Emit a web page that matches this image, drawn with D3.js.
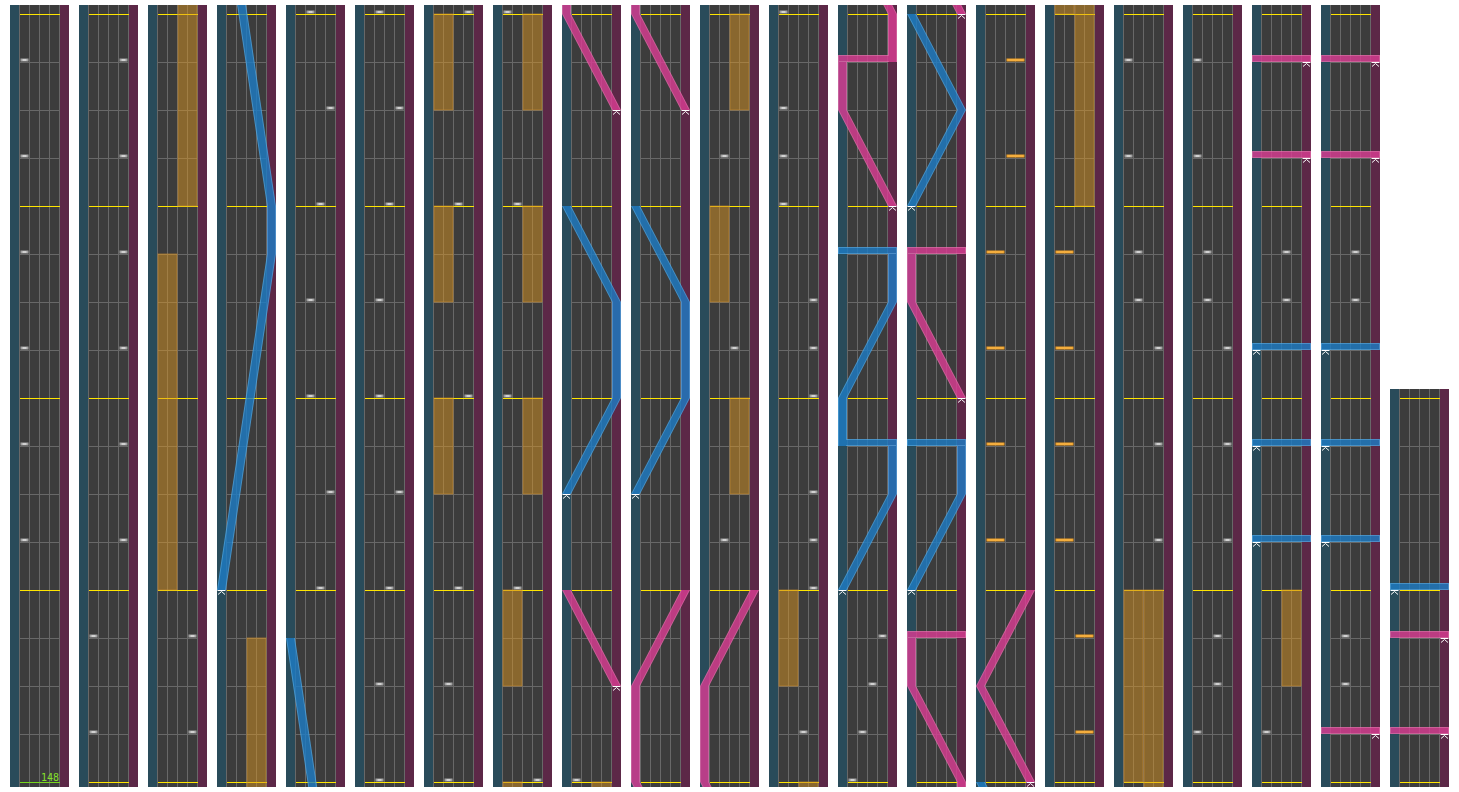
<!DOCTYPE html>
<html>
<head>
<meta charset="utf-8">
<title>Chart overview</title>
<script src="https://cdn.jsdelivr.net/npm/d3@7"></script>
<style>
  body { margin: 0; background: #ffffff; }
  svg { display: block; }
</style>
</head>
<body>
<div id="chart"></div>
<script>
// chart length in beats (4 beats per measure, 16 beats per column)
const totalBeats = 328;
const bpmLabel = "148";

// BT chips per lane, in beats
const btA = [5, 7, 9, 11, 13, 15, 17, 19, 120, 128, 188, 189, 190, 192, 269, 271, 273, 285, 287, 289];
const btB = [72, 74, 80, 82, 88, 90, 96, 98, 116, 124, 165, 173, 193, 266, 267, 282, 283, 306, 307];
const btC = [68, 76, 84, 92, 100, 108, 169, 177, 194, 274, 275, 298, 299, 314, 315];
const btD = [21, 23, 25, 27, 29, 31, 33, 35, 70, 78, 86, 94, 104, 112, 180, 181, 182, 184, 185, 186, 195,
             261, 263, 265, 277, 279, 281];

// FX holds [start, end] in beats
const fxLeftHolds = [[36, 43], [102, 104], [106, 108], [110, 112], [114, 116], [170, 172], [178, 180], [256, 260]];
const fxRightHolds = [[44, 51], [118, 120], [122, 124], [126, 128], [166, 168], [174, 176], [252, 260], [290, 292]];

// FX chips in beats
const fxLeftChips = [229, 231, 233, 235, 245, 247, 249, 251];
const fxRightChips = [237, 239, 241, 243];

// lasers: points [beat, position 0..1]; the same beat twice is a slam
const leftLasers = [
    [[52, 0], [59, 1], [60, 1], [67, 0]],
    [[134, 0], [136, 1], [138, 1], [140, 0]],
    [[150, 0], [152, 1], [154, 1], [156, 0]],
    [[196, 0], [198, 1], [199, 1], [199, 0], [200, 0], [202, 1], [203, 1], [203, 0]],
    [[212, 0], [214, 1], [215, 1], [215, 0]],
    [[220, 0], [222, 1], [224, 0]],
    [[293, 0], [293, 1]],
    [[295, 0], [295, 1]],
    [[297, 0], [297, 1]],
    [[309, 0], [309, 1]],
    [[311, 0], [311, 1]],
    [[313, 0], [313, 1]],
    [[324, 0], [324, 1]]
];
const rightLasers = [
    [[130, 1], [132, 0]],
    [[142, 1], [144, 0], [146, 0], [148, 1]],
    [[158, 1], [160, 0], [162, 0], [164, 1]],
    [[204, 1], [206, 0], [207, 0], [207, 1], [208, 1], [210, 0], [211, 0], [211, 1]],
    [[216, 1], [218, 0], [219, 0], [219, 1]],
    [[224, 1], [226, 0], [228, 1]],
    [[301, 1], [301, 0]],
    [[303, 1], [303, 0]],
    [[305, 1], [305, 0]],
    [[317, 1], [317, 0]],
    [[319, 1], [319, 0]],
    [[321, 1], [321, 0]],
    [[323, 1], [323, 0]]
];

// page layout
const svgWidth = 1459;
const svgHeight = 792;
const beatsPerColumn = 16;
const columnStep = 69;
const columnWidth = 59;
const firstColumnX = 10;
const bottomY = 782;
const topY = 14;

const svg = d3.select("#chart")
    .append("svg")
    .attr("width", svgWidth)
    .attr("height", svgHeight);

const defs = svg.append("defs");

const btLanes = [btA, btB, btC, btD];
const columnCount = Math.ceil(totalBeats / beatsPerColumn);

// draws one laser as filled parallelograms (edge pass, then body pass)
function drawLaser(g, points, y, lx, edgeColor, bodyColor) {
    const grp = g.append("g").attr("opacity", 0.8);
    [[4.5, 0, edgeColor], [3.5, 1, bodyColor]].forEach(([hw, inset, color]) => {
        for (let i = 0; i < points.length - 1; i++) {
            const [b1, v1] = points[i];
            const [b2, v2] = points[i + 1];
            if (b1 === b2) {
                // slam: horizontal bar just above the beat line
                const xa = Math.min(lx(v1), lx(v2)) - hw;
                const xb = Math.max(lx(v1), lx(v2)) + hw;
                grp.append("rect")
                    .attr("x", xa)
                    .attr("y", y(b1) - 7 + inset)
                    .attr("width", xb - xa)
                    .attr("height", 7 - 2 * inset)
                    .attr("fill", color);
            } else {
                const x1 = lx(v1), y1 = y(b1), x2 = lx(v2), y2 = y(b2);
                grp.append("polygon")
                    .attr("points", [[x1 - hw, y1], [x1 + hw, y1], [x2 + hw, y2], [x2 - hw, y2]].join(" "))
                    .attr("fill", color);
            }
        }
    });
    // start marker under the first point
    const sx = lx(points[0][1]);
    const sy = y(points[0][0]);
    g.append("path")
        .attr("d", `M${sx - 4},${sy + 0.5}H${sx + 4}M${sx - 3.5},${sy + 4.5}L${sx},${sy + 1.5}L${sx + 3.5},${sy + 4.5}`)
        .attr("fill", "none")
        .attr("stroke", "#ffffff")
        .attr("stroke-width", 1);
}

for (let c = 0; c < columnCount; c++) {
    const base = c * beatsPerColumn;
    const span = Math.min(beatsPerColumn, totalBeats - base);
    const left = firstColumnX + c * columnStep;

    // scales for this column
    const y = d3.scaleLinear().domain([base, base + beatsPerColumn]).range([bottomY, topY]);
    const lane = d3.scaleLinear().domain([0, 4]).range([left + 9.5, left + 49.5]);
    const lx = d3.scaleLinear().domain([0, 1]).range([left + 4.5, left + 54.5]);

    const colTop = y(base + span) - 9;
    const colBottom = bottomY + 5;

    defs.append("clipPath")
        .attr("id", `clip${c}`)
        .append("rect")
        .attr("x", left)
        .attr("y", colTop)
        .attr("width", columnWidth)
        .attr("height", colBottom - colTop);

    const g = svg.append("g").attr("clip-path", `url(#clip${c})`);

    // background: laser strips and lanes
    g.append("rect").attr("x", left).attr("y", colTop).attr("width", 9.5).attr("height", colBottom - colTop).attr("fill", "#294b5a");
    g.append("rect").attr("x", left + 9.5).attr("y", colTop).attr("width", 40).attr("height", colBottom - colTop).attr("fill", "#3c3c3c");
    g.append("rect").attr("x", left + 49.5).attr("y", colTop).attr("width", 9.5).attr("height", colBottom - colTop).attr("fill", "#5c2847");

    // lane lines
    g.selectAll(".lane-line")
        .data(d3.range(0, 5))
        .enter().append("line")
        .attr("x1", d => lane(d)).attr("x2", d => lane(d))
        .attr("y1", colTop).attr("y2", colBottom)
        .attr("stroke", "#686868")
        .attr("stroke-width", 1)
        .attr("shape-rendering", "crispEdges");

    // beat and measure lines
    const beats = d3.range(base, base + span + 1);
    g.selectAll(".beat-line")
        .data(beats.filter(b => b % 4 !== 0))
        .enter().append("line")
        .attr("x1", lane(0)).attr("x2", lane(4))
        .attr("y1", d => y(d) + 0.5).attr("y2", d => y(d) + 0.5)
        .attr("stroke", "#686868")
        .attr("shape-rendering", "crispEdges");
    g.selectAll(".measure-line")
        .data(beats.filter(b => b % 4 === 0))
        .enter().append("line")
        .attr("x1", lane(0)).attr("x2", lane(4))
        .attr("y1", d => y(d) + 0.5).attr("y2", d => y(d) + 0.5)
        .attr("stroke", d => d === 0 ? "#77d61c" : "#ffe600")
        .attr("shape-rendering", "crispEdges");

    // FX holds
    const holds = fxLeftHolds.map(h => ({ s: h[0], e: h[1], l: 0 }))
        .concat(fxRightHolds.map(h => ({ s: h[0], e: h[1], l: 2 })));
    g.selectAll(".fx-hold")
        .data(holds)
        .enter().append("rect")
        .attr("x", d => lane(d.l) + 0.5)
        .attr("y", d => y(d.e))
        .attr("width", 19)
        .attr("height", d => y(d.s) - y(d.e))
        .attr("fill", "rgba(222,150,32,0.48)")
        .attr("stroke", "rgba(200,140,50,0.6)")
        .attr("stroke-width", 1);

    // BT chips
    const chips = [];
    btLanes.forEach((list, i) => list.forEach(b => chips.push({ b: b, l: i })));
    g.selectAll(".bt")
        .data(chips)
        .enter().append("rect")
        .attr("x", d => lane(d.l) + 1)
        .attr("y", d => y(d.b) - 3.5)
        .attr("width", 8)
        .attr("height", 3)
        .attr("fill", "#a2a2a2");
    g.selectAll(".bt-dash")
        .data(chips)
        .enter().append("rect")
        .attr("x", d => lane(d.l) + 3)
        .attr("y", d => y(d.b) - 2.5)
        .attr("width", 4)
        .attr("height", 1)
        .attr("fill", "#ffffff");

    // FX chips
    const fxChips = fxLeftChips.map(b => ({ b: b, l: 0 })).concat(fxRightChips.map(b => ({ b: b, l: 2 })));
    g.selectAll(".fx-chip")
        .data(fxChips)
        .enter().append("rect")
        .attr("x", d => lane(d.l) + 1)
        .attr("y", d => y(d.b) - 3.5)
        .attr("width", 18)
        .attr("height", 3)
        .attr("fill", "#e99a22");
    g.selectAll(".fx-dash")
        .data(fxChips)
        .enter().append("rect")
        .attr("x", d => lane(d.l) + 2)
        .attr("y", d => y(d.b) - 2.5)
        .attr("width", 16)
        .attr("height", 1)
        .attr("fill", "#ffc25a");

    // lasers
    leftLasers.forEach(p => drawLaser(g, p, y, lx, "#4aa6e6", "#1d7cc6"));
    rightLasers.forEach(p => drawLaser(g, p, y, lx, "#ee6aae", "#dc3c94"));

    // BPM label at the start
    if (c === 0) {
        g.append("text")
            .attr("x", lane(4) - 0.5)
            .attr("y", bottomY - 1.5)
            .attr("text-anchor", "end")
            .attr("font-family", "DejaVu Sans Mono, monospace")
            .attr("font-size", 10)
            .attr("fill", "#86e02a")
            .text(bpmLabel);
    }
}
</script>
</body>
</html>
